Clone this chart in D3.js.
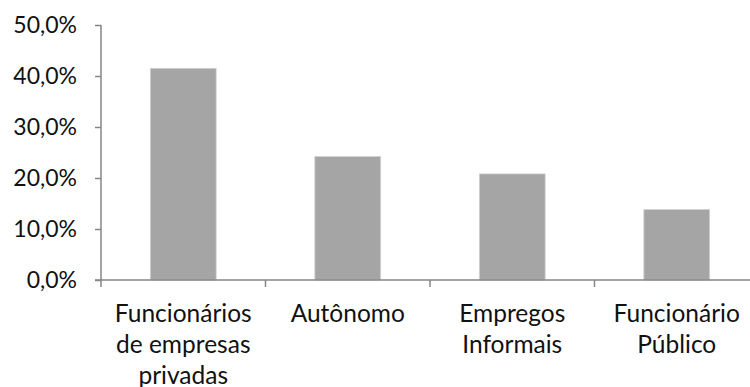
<!DOCTYPE html>
<html>
<head>
<meta charset="utf-8">
<script src="https://cdn.jsdelivr.net/npm/d3@7"></script>
<style>
  html, body { margin: 0; padding: 0; background: #ffffff; }
  svg { display: block; }
  text { font-family: Lato, "Open Sans", sans-serif; fill: #111111; }
</style>
</head>
<body>
<svg id="chart" width="750" height="387"></svg>
<script>
// Share of workers by type of employment
const categories = [
  ["Funcionários", "de empresas", "privadas"],
  ["Autônomo"],
  ["Empregos", "Informais"],
  ["Funcionário", "Público"]
];
const values = [0.415, 0.242, 0.208, 0.138];
const yTicks = [0, 0.1, 0.2, 0.3, 0.4, 0.5];

const svg = d3.select("#chart");
const plot = { left: 101, right: 759, top: 25, bottom: 280 };
const axisColor = "#868686";
const tickFont = 23;
const labelFont = 24.5;

const keys = categories.map(c => c.join(" "));

const x = d3.scaleBand()
  .domain(keys)
  .range([plot.left, plot.right])
  .paddingInner(0.6)
  .paddingOuter(0.3);

const y = d3.scaleLinear()
  .domain([0, 0.5])
  .range([plot.bottom, plot.top]);

// Percent with a comma decimal separator
const pt = d3.formatLocale({ decimal: ",", thousands: ".", grouping: [3], currency: ["R$", ""] });
const pct = pt.format(".1%");

// Bars
svg.append("g")
  .selectAll("rect")
  .data(values)
  .join("rect")
  .attr("x", (d, i) => x(keys[i]))
  .attr("y", d => y(d))
  .attr("width", x.bandwidth())
  .attr("height", d => y(0) - y(d))
  .attr("fill", "#a5a5a5")
  .attr("stroke", "#d0d0d0")
  .attr("stroke-width", 0.8);

// Y axis
const yAxis = svg.append("g")
  .attr("transform", `translate(${plot.left},0)`)
  .call(d3.axisLeft(y).tickValues(yTicks).tickFormat(pct).tickSize(6).tickPadding(18));
yAxis.select(".domain").attr("stroke", axisColor).attr("stroke-width", 1.5)
  .attr("d", `M0,${plot.top}V${plot.bottom}`);
yAxis.selectAll(".tick line").attr("stroke", axisColor).attr("stroke-width", 1.5);
yAxis.selectAll(".tick text")
  .attr("font-size", tickFont)
  .attr("fill", "#111111")
  .attr("font-family", "Lato, 'Open Sans', sans-serif");

// X axis: tick marks sit on the category boundaries
const bounds = d3.range(keys.length + 1).map(i => plot.left + i * (plot.right - plot.left) / keys.length);
const xAxis = svg.append("g");
xAxis.append("line")
  .attr("x1", plot.left - 6).attr("x2", plot.right)
  .attr("y1", plot.bottom).attr("y2", plot.bottom)
  .attr("stroke", axisColor).attr("stroke-width", 1.5);
xAxis.selectAll("line.tick")
  .data(bounds)
  .join("line")
  .attr("class", "tick")
  .attr("x1", d => d).attr("x2", d => d)
  .attr("y1", plot.bottom).attr("y2", plot.bottom + 7)
  .attr("stroke", axisColor).attr("stroke-width", 1.5);

// Category labels, centred under each bar
const labels = svg.append("g")
  .selectAll("text")
  .data(categories)
  .join("text")
  .attr("text-anchor", "middle")
  .attr("font-size", labelFont)
  .attr("x", (d, i) => x(keys[i]) + x.bandwidth() / 2)
  .attr("y", 322);
labels.selectAll("tspan")
  .data(d => d)
  .join("tspan")
  .attr("x", function () { return d3.select(this.parentNode).attr("x"); })
  .attr("dy", (d, i) => i === 0 ? 0 : 31)
  .text(d => d);
</script>
</body>
</html>
